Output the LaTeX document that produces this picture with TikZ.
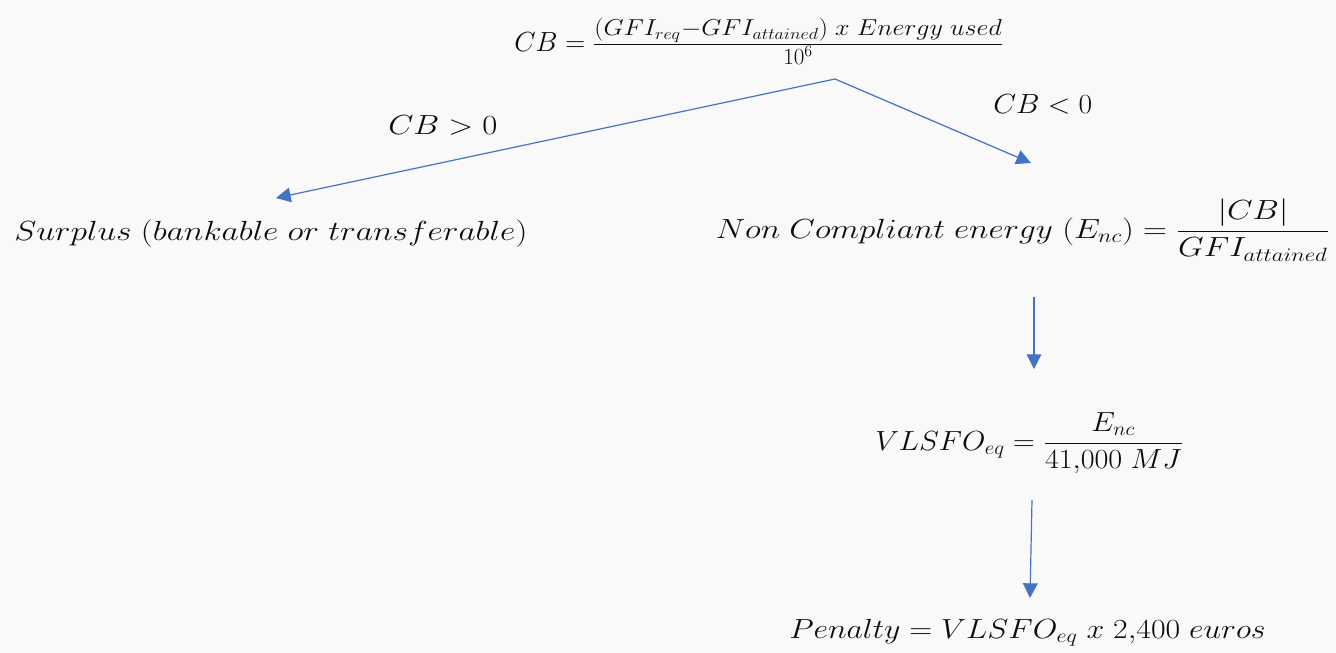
\documentclass[tikz,border=0pt]{standalone}
\usepackage{amsmath}
\usepackage{graphicx}
\usetikzlibrary{arrows.meta}
\definecolor{bg}{HTML}{F9F9F9}
\definecolor{arr}{HTML}{4472C4}
\definecolor{ink}{HTML}{0D0D0D}
\tikzset{
  lbl/.style={inner sep=0pt, anchor=base west, text=ink, font=\fontsize{22}{26}\selectfont},
  link/.style={draw=arr, line width=0.9pt, -{Triangle[length=11pt,width=11pt]}},
}
\newcommand{\wide}[2]{\scalebox{#1}[1]{#2}}
\newcommand{\numsz}{\fontsize{16.5}{18}\selectfont}
\begin{document}
\begin{tikzpicture}[x=0.75pt,y=-0.75pt]
\fill[bg] (0,0) rectangle (1336,653);
\useasboundingbox (0,0) rectangle (1336,653);
\node[lbl] (cb) at (514,51) {$CB = \tfrac{\mbox{\wide{1.13}{\numsz$(GFI_{req} {-} GFI_{attained})\;x\;Energy\;used$}}}{\mbox{\numsz$10^6$}}$};
\coordinate (apex) at (835,79);
\node[lbl] (pos) at (388,134) {\wide{1.18}{$CB > 0$}};
\node[lbl] (neg) at (993,113) {\wide{1.07}{$CB < 0$}};
\node[lbl] (surplus) at (14,240) {\wide{1.21}{$Surplus\;(bankable\;or\;transferable)$}};
\node[lbl, anchor=base east] (nce) at (1330,238) {\wide{1.2}{$\displaystyle Non\;Compliant\;energy\;(E_{nc}) = \frac{|CB|}{GFI_{attained}}$}};
\node[lbl] (vlsfo) at (875,450) {\wide{1.09}{$\displaystyle VLSFO_{eq} = \frac{E_{nc}}{41{,}000\;MJ}$}};
\node[lbl] (pen) at (789,638) {\wide{1.15}{$Penalty = VLSFO_{eq}\;x\;2{,}400\;euros$}};
\coordinate (ls) at (276,198);
\coordinate (rs) at (1031,163);
\coordinate (s1) at (1034,297);
\coordinate (e1) at (1034,369);
\coordinate (s2) at (1032,500);
\coordinate (e2) at (1030,598);
\draw[link] (apex) -- (ls);
\draw[link] (apex) -- (rs);
\draw[link] (s1) -- (e1);
\draw[link] (s2) -- (e2);
\end{tikzpicture}
\end{document}
